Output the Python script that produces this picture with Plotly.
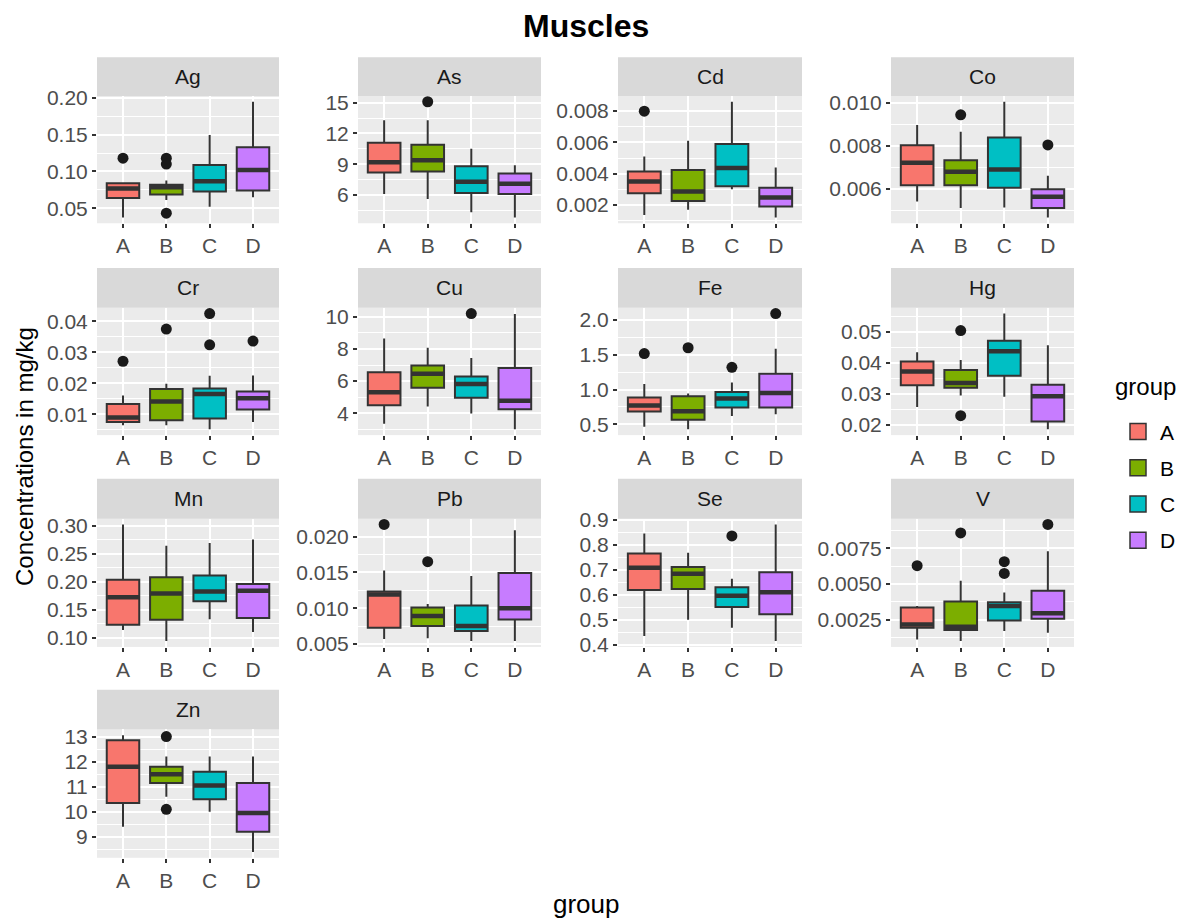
import plotly.graph_objects as go

W, H = 1190, 924

elements = ["Ag", "As", "Cd", "Co", "Cr", "Cu", "Fe", "Hg", "Mn", "Pb", "Se", "V", "Zn"]
groups = ["A", "B", "C", "D"]
group_colors = ["#F8766D", "#7CAE00", "#00BFC4", "#C77CFF"]

# box statistics per element, in group order A, B, C, D
Q1 = {
    "Ag": [0.064, 0.069, 0.0728, 0.0742],
    "As": [8.2, 8.3, 6.2, 6.1],
    "Cd": [0.00275, 0.00226, 0.0032, 0.0019],
    "Co": [0.00617, 0.00617, 0.00605, 0.00511],
    "Cr": [0.0075, 0.008, 0.0086, 0.0115],
    "Cu": [4.5, 5.59, 4.96, 4.25],
    "Fe": [0.684, 0.568, 0.742, 0.742],
    "Hg": [0.0327, 0.0319, 0.0358, 0.021],
    "Mn": [0.123, 0.132, 0.165, 0.135],
    "Pb": [0.00726, 0.0075, 0.0068, 0.00843],
    "Se": [0.619, 0.623, 0.551, 0.522],
    "V": [0.00194, 0.00177, 0.00245, 0.00257],
    "Zn": [10.35, 11.15, 10.5, 9.2],
}
MEDIAN = {
    "Ag": [0.077, 0.0787, 0.0869, 0.102],
    "As": [9.2, 9.4, 7.3, 7.1],
    "Cd": [0.0035, 0.00286, 0.00436, 0.00247],
    "Co": [0.00722, 0.0068, 0.0069, 0.00563],
    "Cr": [0.0089, 0.0141, 0.0165, 0.0151],
    "Cu": [5.3, 6.45, 5.82, 4.77],
    "Fe": [0.77, 0.69, 0.873, 0.95],
    "Hg": [0.0372, 0.0335, 0.0437, 0.0292],
    "Mn": [0.172, 0.179, 0.1825, 0.184],
    "Pb": [0.0119, 0.0089, 0.0075, 0.0100],
    "Se": [0.708, 0.684, 0.596, 0.61],
    "V": [0.00217, 0.00201, 0.00346, 0.00295],
    "Zn": [11.8, 11.5, 11.05, 9.95],
}
Q3 = {
    "Ag": [0.084, 0.082, 0.1088, 0.133],
    "As": [11.1, 10.9, 8.8, 8.1],
    "Cd": [0.00414, 0.00423, 0.0059, 0.0031],
    "Co": [0.00803, 0.00734, 0.00839, 0.00598],
    "Cr": [0.01325, 0.0181, 0.0183, 0.0173],
    "Cu": [6.55, 6.97, 6.28, 6.82],
    "Fe": [0.887, 0.906, 0.965, 1.226],
    "Hg": [0.0404, 0.0377, 0.0471, 0.0329],
    "Mn": [0.2036, 0.2078, 0.211, 0.196],
    "Pb": [0.01234, 0.0101, 0.01036, 0.0149],
    "Se": [0.765, 0.711, 0.63, 0.69],
    "V": [0.00335, 0.00377, 0.00372, 0.00452],
    "Zn": [12.85, 11.8, 11.6, 11.15],
}
LOWER = {
    "Ag": [0.0377, 0.0614, 0.0523, 0.065],
    "As": [6.1, 5.6, 4.3, 3.8],
    "Cd": [0.00136, 0.0017, 0.003, 0.0012],
    "Co": [0.00542, 0.00511, 0.00514, 0.00467],
    "Cr": [0.0064, 0.0064, 0.0051, 0.0075],
    "Cu": [3.35, 4.42, 3.98, 3.0],
    "Fe": [0.466, 0.43, 0.62, 0.645],
    "Hg": [0.0257, 0.0294, 0.029, 0.0185],
    "Mn": [0.1139, 0.094, 0.133, 0.11],
    "Pb": [0.0057, 0.0058, 0.0054, 0.0054],
    "Se": [0.434, 0.50, 0.468, 0.414],
    "V": [0.00111, 0.001, 0.0017, 0.00158],
    "Zn": [9.4, 10.6, 10.0, 8.4],
}
UPPER = {
    "Ag": [0.0856, 0.0878, 0.1494, 0.1945],
    "As": [13.3, 13.3, 10.5, 8.9],
    "Cd": [0.0051, 0.0061, 0.0086, 0.0044],
    "Co": [0.00898, 0.00866, 0.01006, 0.00661],
    "Cr": [0.016, 0.0198, 0.0224, 0.0225],
    "Cu": [8.65, 8.08, 7.43, 10.17],
    "Fe": [1.08, 0.945, 1.1, 1.584],
    "Hg": [0.0434, 0.0409, 0.0559, 0.0457],
    "Mn": [0.302, 0.264, 0.269, 0.275],
    "Pb": [0.01525, 0.0106, 0.0145, 0.0209],
    "Se": [0.846, 0.768, 0.664, 0.882],
    "V": [0.00346, 0.00522, 0.0044, 0.00729],
    "Zn": [13.05, 12.2, 12.2, 12.2],
}
OUTLIERS = {
    "Ag": [[0.118], [0.118, 0.110, 0.0435], [], []],
    "As": [[], [15.1], [], []],
    "Cd": [[0.008], [], [], []],
    "Co": [[], [0.00945], [], [0.00805]],
    "Cr": [[0.0271], [0.0375], [0.0425, 0.0324], [0.0336]],
    "Cu": [[], [], [10.2], []],
    "Fe": [[1.516], [1.6], [1.32], [2.09]],
    "Hg": [[], [0.0504, 0.0229], [], []],
    "Mn": [[], [], [], []],
    "Pb": [[0.0217], [0.0165], [], []],
    "Se": [[], [], [0.836], []],
    "V": [[0.00628], [0.00858], [0.00656, 0.00574], [0.00917]],
    "Zn": [[], [13.0, 10.1], [], []],
}
YTICK_LABELS = {
    "Ag": ["0.05", "0.10", "0.15", "0.20"],
    "As": ["6", "9", "12", "15"],
    "Cd": ["0.002", "0.004", "0.006", "0.008"],
    "Co": ["0.006", "0.008", "0.010"],
    "Cr": ["0.01", "0.02", "0.03", "0.04"],
    "Cu": ["4", "6", "8", "10"],
    "Fe": ["0.5", "1.0", "1.5", "2.0"],
    "Hg": ["0.02", "0.03", "0.04", "0.05"],
    "Mn": ["0.10", "0.15", "0.20", "0.25", "0.30"],
    "Pb": ["0.005", "0.010", "0.015", "0.020"],
    "Se": ["0.4", "0.5", "0.6", "0.7", "0.8", "0.9"],
    "V": ["0.0025", "0.0050", "0.0075"],
    "Zn": ["9", "10", "11", "12", "13"],
}

title_text = "Muscles"
x_title = "group"
y_title = "Concentrations in mg/kg"
legend_title = "group"

# ---- layout geometry (target pixels) ----
COL_X = [(97, 279), (358, 541), (618, 802), (891, 1074)]
ROW_Y = [(55, 94, 222), (267, 307, 435), (479, 519, 648), (691, 731, 860)]  # strip top, panel top, panel bottom

FONT = "Liberation Sans, Arial, sans-serif"
LINE = "#333333"
BOX_W = 0.75
TICK_SIZE = 21

# page offset compensation (observed render placement)
OX, OY, SY = 8.0, 15.6, 910.0

def px_x(p):
    return (p - OX) / W

def px_y(p):
    return 1 - (p - OY) / SY

fig = go.Figure()
shapes = []
annotations = []

for k, el in enumerate(elements):
    r, c = divmod(k, 4)
    ax = "" if k == 0 else str(k + 1)
    xref, yref = "x" + ax, "y" + ax
    x0, x1 = COL_X[c]
    st, pt, pb = ROW_Y[r]

    vals = LOWER[el] + UPPER[el] + [v for o in OUTLIERS[el] for v in o]
    lo, hi = min(vals), max(vals)
    pad = (hi - lo) * 0.05
    yr = [lo - pad, hi + pad]

    ticks = [float(t) for t in YTICK_LABELS[el]]
    step = ticks[1] - ticks[0]
    minors = [ticks[0] - step / 2] + [t + step / 2 for t in ticks]
    minors = [m for m in minors if yr[0] <= m <= yr[1]]

    for g, grp in enumerate(groups):
        xpos = g + 1
        fig.add_trace(go.Box(
            x=[xpos], q1=[Q1[el][g]], median=[MEDIAN[el][g]], q3=[Q3[el][g]],
            lowerfence=[LOWER[el][g]], upperfence=[UPPER[el][g]],
            width=BOX_W, whiskerwidth=0, boxpoints=False,
            fillcolor=group_colors[g], line=dict(color=LINE, width=2),
            name=grp, legendgroup=grp, showlegend=False,
            xaxis=xref, yaxis=yref, hoverinfo="skip",
        ))
        fig.add_trace(go.Scatter(
            x=[xpos - BOX_W / 2, xpos + BOX_W / 2], y=[MEDIAN[el][g]] * 2,
            mode="lines", line=dict(color=LINE, width=4.5),
            showlegend=False, xaxis=xref, yaxis=yref, hoverinfo="skip",
        ))
        if OUTLIERS[el][g]:
            fig.add_trace(go.Scatter(
                x=[xpos] * len(OUTLIERS[el][g]), y=OUTLIERS[el][g],
                mode="markers", marker=dict(color="#1A1A1A", size=11),
                showlegend=False, xaxis=xref, yaxis=yref, hoverinfo="skip",
            ))

    fig.layout["xaxis" + ax] = dict(
        domain=[px_x(x0), px_x(x1)], anchor=yref, range=[0.4, 4.6],
        tickmode="array", tickvals=[1, 2, 3, 4], ticktext=groups,
        showgrid=True, gridcolor="white", gridwidth=2, zeroline=False,
        ticks="outside", ticklen=4, tickwidth=1.5, tickcolor=LINE,
        tickfont=dict(family=FONT, size=TICK_SIZE, color="#4D4D4D"),
        showline=False, fixedrange=True,
    )
    fig.layout["yaxis" + ax] = dict(
        domain=[px_y(pb), px_y(pt)], anchor=xref, range=yr,
        tickmode="array", tickvals=ticks, ticktext=YTICK_LABELS[el],
        showgrid=True, gridcolor="white", gridwidth=2, zeroline=False,
        minor=dict(tickmode="array", tickvals=minors, showgrid=True,
                   gridcolor="white", gridwidth=1, ticks=""),
        ticks="outside", ticklen=4, tickwidth=1.5, tickcolor=LINE,
        tickfont=dict(family=FONT, size=TICK_SIZE, color="#4D4D4D"),
        showline=False, fixedrange=True,
    )

    shapes.append(dict(type="rect", xref="paper", yref="paper",
                       x0=px_x(x0), x1=px_x(x1), y0=px_y(pt), y1=px_y(st),
                       fillcolor="#D9D9D9", line=dict(width=0), layer="below"))
    annotations.append(dict(text=el, xref="paper", yref="paper",
                            x=px_x((x0 + x1) / 2), y=px_y((st + pt) / 2),
                            xanchor="center", yanchor="middle", showarrow=False,
                            font=dict(family=FONT, size=TICK_SIZE, color="#1A1A1A")))

# legend entries (legend-only markers styled like the box keys)
for g, grp in enumerate(groups):
    fig.add_trace(go.Scatter(
        x=[None], y=[None], mode="markers", name=grp, legendgroup=grp,
        marker=dict(symbol="square", size=16, color=group_colors[g],
                    line=dict(color=LINE, width=1.5)),
        showlegend=True, hoverinfo="skip",
    ))

annotations.append(dict(text="<b>" + title_text + "</b>", xref="paper", yref="paper",
                        x=px_x(586), y=px_y(24), xanchor="center", yanchor="middle",
                        showarrow=False, font=dict(family=FONT, size=32, color="black")))
annotations.append(dict(text=x_title, xref="paper", yref="paper",
                        x=px_x(586), y=px_y(906), xanchor="center", yanchor="middle",
                        showarrow=False, font=dict(family=FONT, size=26, color="black")))
annotations.append(dict(text=y_title, xref="paper", yref="paper", textangle=-90,
                        x=px_x(25), y=px_y(457), xanchor="center", yanchor="middle",
                        showarrow=False, font=dict(family=FONT, size=24, color="black")))
annotations.append(dict(text=legend_title, xref="paper", yref="paper",
                        x=px_x(1113), y=px_y(386), xanchor="left", yanchor="middle",
                        showarrow=False, font=dict(family=FONT, size=24, color="black")))

fig.update_layout(
    width=W, height=H, margin=dict(l=0, r=0, t=0, b=0),
    paper_bgcolor="white", plot_bgcolor="#EBEBEB",
    boxmode="overlay", shapes=shapes, annotations=annotations,
    showlegend=True,
    legend=dict(x=px_x(1116), xanchor="left", y=px_y(411), yanchor="top",
                font=dict(family=FONT, size=21, color="black"),
                tracegroupgap=6, itemwidth=34, bgcolor="rgba(0,0,0,0)"),
)

fig.write_html("out.html")
